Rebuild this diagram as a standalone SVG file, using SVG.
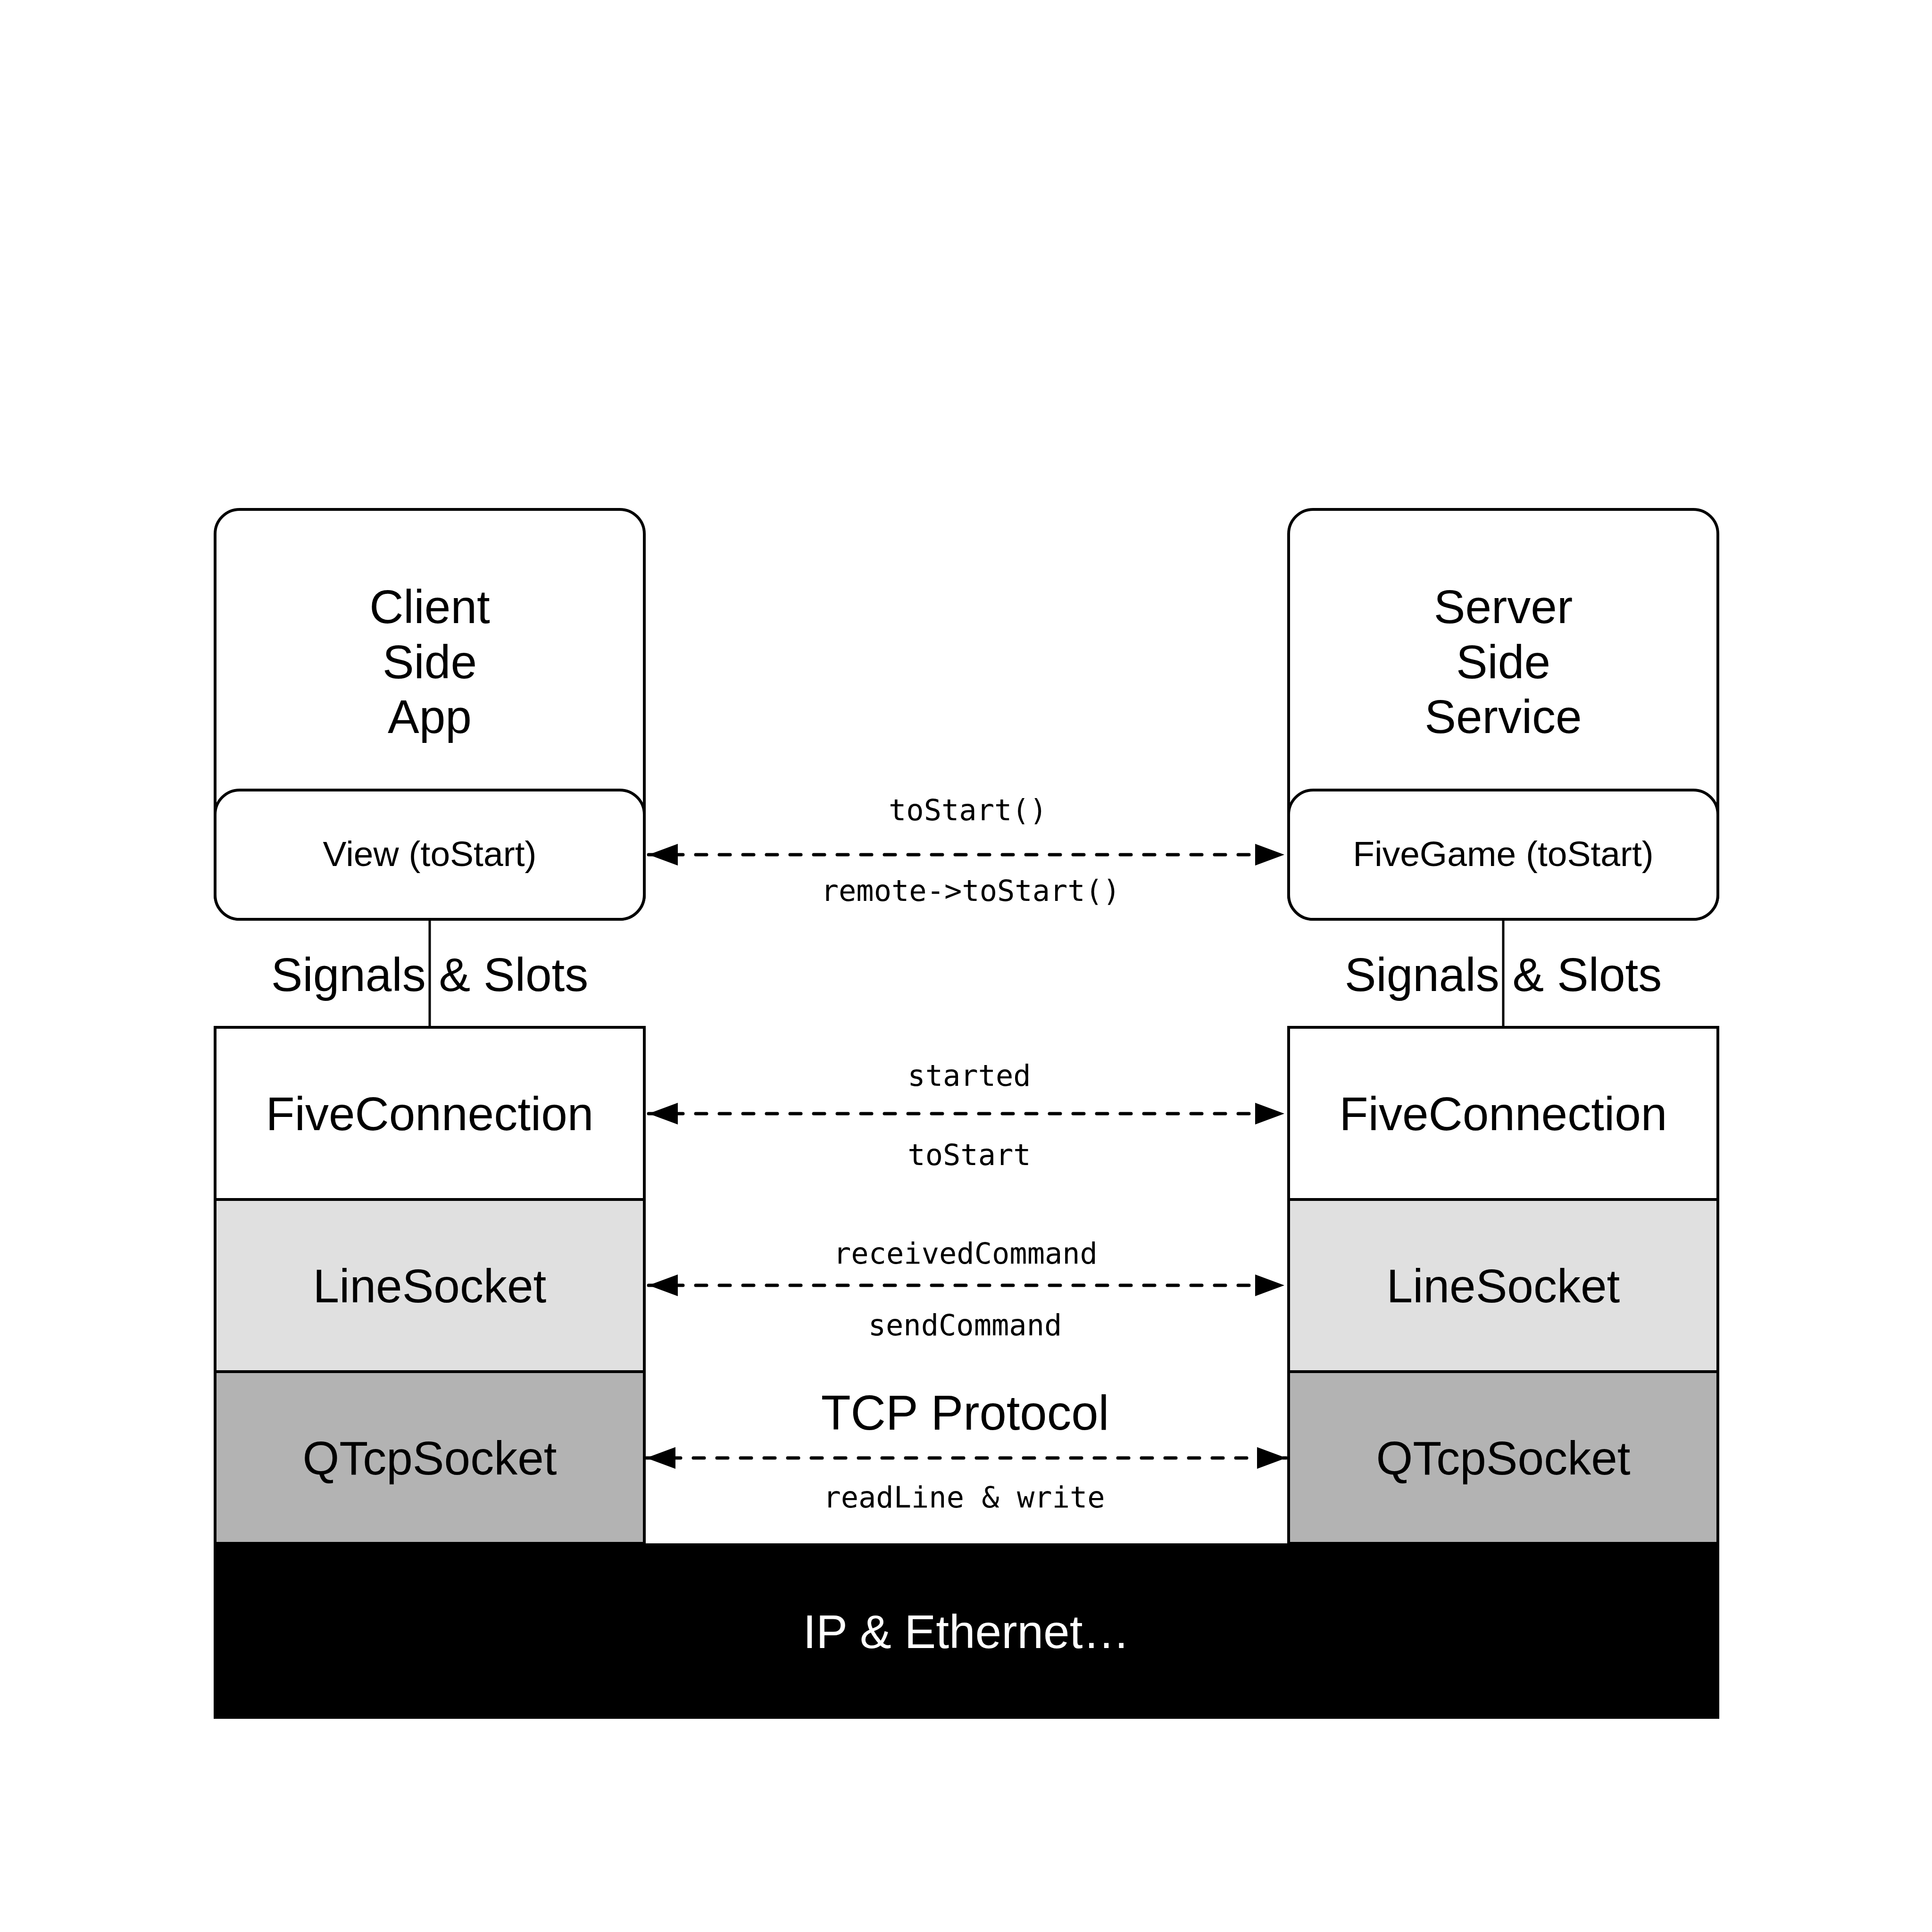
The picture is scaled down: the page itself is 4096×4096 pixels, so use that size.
<svg xmlns="http://www.w3.org/2000/svg" width="4096" height="4096" viewBox="0 0 4096 4096">
<style>
.box{stroke:#000;stroke-width:6;}
.t{font-family:"Liberation Sans",Arial,Helvetica,sans-serif;text-anchor:middle;fill:#000;}
.big{font-size:100px;}
.mid{font-size:75px;}
.m{font-family:"DejaVu Sans Mono","Liberation Mono",monospace;font-size:62px;text-anchor:middle;fill:#000;}
.arr{stroke:#000;stroke-width:7;stroke-linecap:round;stroke-dasharray:23 27;fill:none;marker-start:url(#ah);marker-end:url(#ah);}
.link{stroke:#000;stroke-width:5;fill:none;}
</style>
<defs>
<marker id="ah" markerUnits="userSpaceOnUse" markerWidth="62" markerHeight="46" refX="62" refY="23" orient="auto-start-reverse" viewBox="0 0 62 46">
<path d="M0,0 L62,23 L0,46 Z" fill="#000"/>
</marker>
</defs>
<rect width="4096" height="4096" fill="#fff"/>

<g id="ip-ethernet">
<rect x="453" y="3272" width="3192" height="372" fill="#000"/>
<text class="t big" x="2049" y="3494" style="fill:#fff">IP &amp; Ethernet…</text>
</g>

<g id="client-app">
<rect class="box" x="456" y="1080" width="910" height="869" rx="52" ry="52" fill="#fff"/>
<text class="t big" x="911" y="1321">Client</text>
<text class="t big" x="911" y="1438">Side</text>
<text class="t big" x="911" y="1554">App</text>
</g>
<g id="client-view">
<rect class="box" x="456" y="1675" width="910" height="274" rx="52" ry="52" fill="#fff"/>
<text class="t mid" x="911" y="1836">View (toStart)</text>
</g>

<g id="server-service">
<rect class="box" x="2732" y="1080" width="910" height="869" rx="52" ry="52" fill="#fff"/>
<text class="t big" x="3187" y="1321">Server</text>
<text class="t big" x="3187" y="1438">Side</text>
<text class="t big" x="3187" y="1554">Service</text>
</g>
<g id="server-fivegame">
<rect class="box" x="2732" y="1675" width="910" height="274" rx="52" ry="52" fill="#fff"/>
<text class="t mid" x="3187" y="1836">FiveGame (toStart)</text>
</g>

<g id="client-fiveconnection">
<rect class="box" x="456" y="2178" width="910" height="365" fill="#fff"/>
<text class="t big" x="911" y="2396">FiveConnection</text>
</g>
<g id="client-linesocket">
<rect class="box" x="456" y="2543" width="910" height="365" fill="#e0e0e0"/>
<text class="t big" x="911" y="2761">LineSocket</text>
</g>
<g id="client-qtcpsocket">
<rect class="box" x="456" y="2908" width="910" height="364" fill="#b3b3b3"/>
<text class="t big" x="911" y="3126">QTcpSocket</text>
</g>

<g id="server-fiveconnection">
<rect class="box" x="2732" y="2178" width="910" height="365" fill="#fff"/>
<text class="t big" x="3187" y="2396">FiveConnection</text>
</g>
<g id="server-linesocket">
<rect class="box" x="2732" y="2543" width="910" height="365" fill="#e0e0e0"/>
<text class="t big" x="3187" y="2761">LineSocket</text>
</g>
<g id="server-qtcpsocket">
<rect class="box" x="2732" y="2908" width="910" height="364" fill="#b3b3b3"/>
<text class="t big" x="3187" y="3126">QTcpSocket</text>
</g>

<g id="connectors">
<line class="link" x1="911" y1="1949" x2="911" y2="2178"/>
<line class="link" x1="3187" y1="1949" x2="3187" y2="2178"/>
<text class="t big" x="911" y="2101">Signals &amp; Slots</text>
<text class="t big" x="3187" y="2101">Signals &amp; Slots</text>

<line class="arr" x1="1375" y1="1812" x2="2723" y2="1812"/>
<text class="m" x="2052" y="1739">toStart()</text>
<text class="m" x="2058" y="1910">remote-&gt;toStart()</text>

<line class="arr" x1="1375" y1="2361" x2="2723" y2="2361"/>
<text class="m" x="2055" y="2302">started</text>
<text class="m" x="2055" y="2470">toStart</text>

<line class="arr" x1="1375" y1="2725" x2="2723" y2="2725"/>
<text class="m" x="2047" y="2679">receivedCommand</text>
<text class="m" x="2046" y="2831">sendCommand</text>

<line class="arr" x1="1370" y1="3091" x2="2727" y2="3091"/>
<text class="t" x="2046" y="3031" style="font-size:103px">TCP Protocol</text>
<text class="m" x="2044" y="3196">readLine &amp; write</text>
</g>
</svg>
